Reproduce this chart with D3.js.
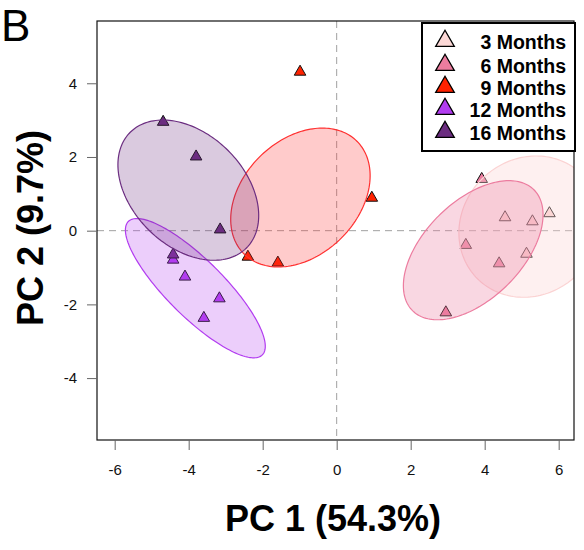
<!DOCTYPE html>
<html>
<head>
<meta charset="utf-8">
<script src="https://cdn.jsdelivr.net/npm/d3@7"></script>
<style>
  html, body { margin: 0; padding: 0; background: #fff; }
  svg { display: block; font-family: 'Liberation Sans', Arial, sans-serif; }
</style>
</head>
<body>
<div id="chart"></div>
<script>
const groups = ['3 Months', '6 Months', '9 Months', '12 Months', '16 Months']
const groupColors = ['#fcd8d6', '#ec7c9f', '#ff2200', '#b23cf0', '#6b2d80']
const ellipseColors = ['#fbd3d3', '#ec7c9f', '#ff3030', '#b23cf0', '#6b2d80']
const ellipseAlpha = [0.35, 0.3, 0.25, 0.25, 0.25]

// PCA scores
const pc1 = [
  4.55, 5.29, 5.75, 5.13,
  3.92, 3.49, 4.39, 2.95,
  -0.99, 0.95, -2.40, -1.59,
  -4.42, -4.10, -3.17, -3.59,
  -4.69, -3.80, -3.15, -4.42
]
const pc2 = [
  0.36, 0.25, 0.47, -0.63,
  1.40, -0.39, -0.89, -2.22,
  4.31, 0.89, -0.71, -0.87,
  -0.79, -1.25, -1.84, -2.37,
  2.95, 2.01, 0.03, -0.65
]
const sampleGroup = [
  0, 0, 0, 0,
  1, 1, 1, 1,
  2, 2, 2, 2,
  3, 3, 3, 3,
  4, 4, 4, 4
]

// ellipse per group: centre, semi-axes (PC units), rotation in degrees
const ellCx = [5.22, 3.69, -0.98, -3.82, -4.01]
const ellCy = [0.11, -0.53, 0.90, -1.56, 1.10]
const ellA = [2.00, 2.32, 2.16, 2.56, 2.22]
const ellB = [1.83, 1.32, 1.56, 0.77, 1.52]
const ellAngle = [45, 45, 45, -45, -45]

const xTicks = [-6, -4, -2, 0, 2, 4, 6]
const yTicks = [-4, -2, 0, 2, 4]

const W = 584, H = 550
const plot = { left: 97, right: 574, top: 21, bottom: 440 }

const svg = d3.select('#chart').append('svg')
  .attr('width', W)
  .attr('height', H)

const x = d3.scaleLinear().domain([-6.478, 6.414]).range([plot.left, plot.right])
const y = d3.scaleLinear().domain([-5.68, 5.69]).range([plot.bottom, plot.top])

svg.append('defs').append('clipPath').attr('id', 'plotclip')
  .append('rect')
  .attr('x', plot.left).attr('y', plot.top)
  .attr('width', plot.right - plot.left).attr('height', plot.bottom - plot.top)

const g = svg.append('g').attr('clip-path', 'url(#plotclip)')

/* zero lines */
g.append('line')
  .attr('x1', x(0)).attr('x2', x(0))
  .attr('y1', plot.top).attr('y2', plot.bottom)
  .attr('stroke', '#a0a0a0').attr('stroke-dasharray', '7 5')
g.append('line')
  .attr('x1', plot.left).attr('x2', plot.right)
  .attr('y1', y(0)).attr('y2', y(0))
  .attr('stroke', '#a0a0a0').attr('stroke-dasharray', '7 5')

/* points */
const tri = d3.symbol().type(d3.symbolTriangle).size(58)
g.selectAll('path.pt')
  .data(d3.range(pc1.length))
  .join('path')
  .attr('class', 'pt')
  .attr('d', tri)
  .attr('transform', i => `translate(${x(pc1[i])},${y(pc2[i])})`)
  .attr('fill', i => groupColors[sampleGroup[i]])
  .attr('stroke', '#111')
  .attr('stroke-width', 1)

/* ellipses drawn over the points */
const line = d3.line().curve(d3.curveLinearClosed)
function ellipsePoints(k) {
  const th = ellAngle[k] * Math.PI / 180
  return d3.range(0, 2 * Math.PI, Math.PI / 90).map(t => {
    const ex = ellCx[k] + ellA[k] * Math.cos(th) * Math.cos(t) - ellB[k] * Math.sin(th) * Math.sin(t)
    const ey = ellCy[k] + ellA[k] * Math.sin(th) * Math.cos(t) + ellB[k] * Math.cos(th) * Math.sin(t)
    return [x(ex), y(ey)]
  })
}
g.selectAll('path.ell')
  .data(d3.range(groups.length))
  .join('path')
  .attr('class', 'ell')
  .attr('d', k => line(ellipsePoints(k)))
  .attr('fill', k => ellipseColors[k])
  .attr('fill-opacity', k => ellipseAlpha[k])
  .attr('stroke', k => ellipseColors[k])
  .attr('stroke-width', 1.2)

/* frame */
svg.append('rect')
  .attr('x', plot.left).attr('y', plot.top)
  .attr('width', plot.right - plot.left).attr('height', plot.bottom - plot.top)
  .attr('fill', 'none').attr('stroke', '#111').attr('stroke-width', 1.2)

/* axes */
const xAxis = svg.append('g')
  .attr('transform', `translate(0,${plot.bottom})`)
  .call(d3.axisBottom(x).tickValues(xTicks).tickSize(10).tickPadding(14).tickFormat(d3.format('d')))
const yAxis = svg.append('g')
  .attr('transform', `translate(${plot.left},0)`)
  .call(d3.axisLeft(y).tickValues(yTicks).tickSize(10).tickPadding(10).tickFormat(d3.format('d')))
for (const ax of [xAxis, yAxis]) {
  ax.select('.domain').remove()
  ax.selectAll('.tick line').attr('stroke', '#666')
  ax.selectAll('.tick text')
    .attr('font-size', 15)
    .attr('font-family', "'Liberation Sans', Arial, sans-serif")
    .attr('fill', '#111')
    .text(d => d < 0 ? '-' + Math.abs(d) : d)
}

/* axis titles */
svg.append('text')
  .attr('x', 333).attr('y', 531)
  .attr('text-anchor', 'middle')
  .attr('font-size', 36).attr('font-weight', 'bold')
  .text('PC 1 (54.3%)')
svg.append('text')
  .attr('transform', 'translate(43,228) rotate(-90)')
  .attr('text-anchor', 'middle')
  .attr('font-size', 36).attr('font-weight', 'bold')
  .text('PC 2 (9.7%)')

/* panel letter */
svg.append('text')
  .attr('x', 1).attr('y', 41)
  .attr('font-size', 44)
  .text('B')

/* legend */
const legend = svg.append('g')
legend.append('rect')
  .attr('x', 422).attr('y', 23)
  .attr('width', 153).attr('height', 128)
  .attr('fill', '#fff').attr('stroke', '#000').attr('stroke-width', 2)
const legY = [42, 66, 88, 110, 133]
const bigTri = d3.symbol().type(d3.symbolTriangle).size(150)
legend.selectAll('path')
  .data(d3.range(groups.length))
  .join('path')
  .attr('d', bigTri)
  .attr('transform', k => `translate(445,${legY[k] - 1})`)
  .attr('fill', k => groupColors[k])
  .attr('stroke', '#000')
  .attr('stroke-width', 1.3)
legend.selectAll('text')
  .data(d3.range(groups.length))
  .join('text')
  .attr('x', 566)
  .attr('y', k => legY[k] + 7)
  .attr('text-anchor', 'end')
  .attr('font-size', 19.5).attr('font-weight', 'bold')
  .text(k => groups[k])
</script>
</body>
</html>
